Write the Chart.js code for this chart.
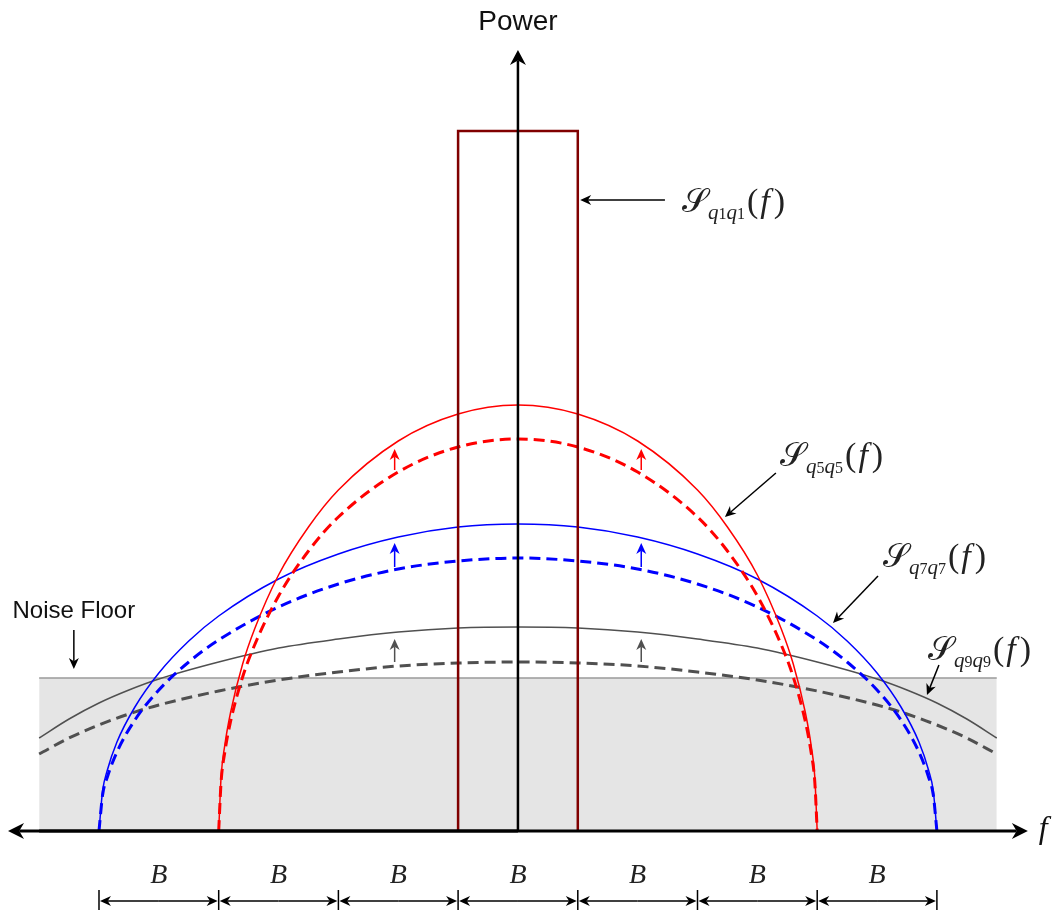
<!DOCTYPE html>
<html>
<head>
<meta charset="utf-8">
<script src="https://cdn.jsdelivr.net/npm/chart.js@4.4.1/dist/chart.umd.min.js"></script>
<style>
  html, body { margin: 0; padding: 0; background: #fff; }
  #wrap { width: 1056px; height: 912px; }
</style>
</head>
<body>
<div id="wrap"><canvas id="spectrum" width="1056" height="912"></canvas></div>
<script>
// Power spectra sketch. Frequency in units of B, power in arbitrary units.

const redF = [-2.5, -2.48, -2.45, -2.4, -2.3, -2.2, -2.0, -1.75, -1.5, -1.0, -0.5, 0, 0.5, 1.0, 1.5, 1.75, 2.0, 2.2, 2.3, 2.4, 2.45, 2.48, 2.5];
const redSolid = [0, 0.54, 0.85, 1.19, 1.67, 2.02, 2.56, 3.04, 3.41, 3.90, 4.17, 4.26, 4.17, 3.90, 3.41, 3.04, 2.56, 2.02, 1.67, 1.19, 0.85, 0.54, 0];
const redDashed = [0, 0.49, 0.78, 1.10, 1.54, 1.86, 2.35, 2.80, 3.14, 3.59, 3.84, 3.92, 3.84, 3.59, 3.14, 2.80, 2.35, 1.86, 1.54, 1.10, 0.78, 0.49, 0];

const blueF = [-3.5, -3.47, -3.43, -3.35, -3.2, -3.0, -2.75, -2.5, -2.0, -1.5, -1.0, -0.5, 0, 0.5, 1.0, 1.5, 2.0, 2.5, 2.75, 3.0, 3.2, 3.35, 3.43, 3.47, 3.5];
const blueSolid = [0, 0.40, 0.61, 0.89, 1.24, 1.58, 1.90, 2.15, 2.52, 2.77, 2.94, 3.04, 3.07, 3.04, 2.94, 2.77, 2.52, 2.15, 1.90, 1.58, 1.24, 0.89, 0.61, 0.40, 0];
const blueDashed = [0, 0.36, 0.54, 0.79, 1.11, 1.41, 1.69, 1.91, 2.24, 2.47, 2.62, 2.70, 2.73, 2.70, 2.62, 2.47, 2.24, 1.91, 1.69, 1.41, 1.11, 0.79, 0.54, 0.36, 0];

const grayF = [-4, -3.75, -3.5, -3.25, -3, -2.5, -2, -1.5, -1, -0.5, 0, 0.5, 1, 1.5, 2, 2.5, 3, 3.25, 3.5, 3.75, 4];
const graySolid = [0.93, 1.12, 1.28, 1.41, 1.52, 1.69, 1.83, 1.92, 1.99, 2.03, 2.04, 2.03, 1.99, 1.92, 1.83, 1.69, 1.52, 1.41, 1.28, 1.12, 0.93];
const grayDashed = [0.77, 0.93, 1.06, 1.17, 1.26, 1.40, 1.51, 1.59, 1.65, 1.68, 1.69, 1.68, 1.65, 1.59, 1.51, 1.40, 1.26, 1.17, 1.06, 0.93, 0.77];

const q1Band = [-0.5, 0.5];
const q1Power = 7.0;
const noiseBand = [-4, 4];
const noiseFloor = 1.53;

// little "gain" arrows from dashed to solid curve (red, blue, gray)
const gainF = [-1.03, 1.03];
const gainFrom = [3.61, 2.64, 1.69];
const gainTo = [3.82, 2.88, 1.92];

const bandEdges = [-3.5, -2.5, -1.5, -0.5, 0.5, 1.5, 2.5, 3.5];
const bandLabel = 'B';
const yAxisLabel = 'Power';
const xAxisLabel = 'f';
const noiseLabel = 'Noise Floor';
const seriesIdx = ['1', '5', '7', '9'];

const pts = (xs, ys) => xs.map((v, i) => ({ x: v, y: ys[i] }));

function arrowHead(ctx, tipX, tipY, fromX, fromY, len, half, color) {
  const ang = Math.atan2(tipY - fromY, tipX - fromX);
  ctx.save();
  ctx.translate(tipX, tipY);
  ctx.rotate(ang);
  ctx.beginPath();
  ctx.moveTo(0, 0);
  ctx.lineTo(-len, -half);
  ctx.lineTo(-len * 0.7, 0);
  ctx.lineTo(-len, half);
  ctx.closePath();
  ctx.fillStyle = color;
  ctx.fill();
  ctx.restore();
}

function arrow(ctx, x0, y0, x1, y1, width, len, half, color) {
  const d = Math.hypot(x1 - x0, y1 - y0);
  const ex = x1 - (x1 - x0) / d * len * 0.7;
  const ey = y1 - (y1 - y0) / d * len * 0.7;
  ctx.save();
  ctx.strokeStyle = color;
  ctx.lineWidth = width;
  ctx.beginPath();
  ctx.moveTo(x0, y0);
  ctx.lineTo(ex, ey);
  ctx.stroke();
  ctx.restore();
  arrowHead(ctx, x1, y1, x0, y0, len, half, color);
}

// S_{qNqN}(f) drawn as runs of text
function seriesLabel(ctx, x, y, n) {
  const runs = [
    { t: '\uD835\uDCAE', f: '33px "DejaVu Serif", serif', dy: 0 },
    { t: 'q', f: 'italic 21px "Liberation Serif", serif', dy: 7 },
    { t: n, f: '16px "Liberation Serif", serif', dy: 7 },
    { t: 'q', f: 'italic 21px "Liberation Serif", serif', dy: 7 },
    { t: n, f: '16px "Liberation Serif", serif', dy: 7 },
    { t: '(', f: '34px "Liberation Serif", serif', dy: 0, pre: 2 },
    { t: 'f', f: 'italic 34px "Liberation Serif", serif', dy: 0, pre: 2 },
    { t: ')', f: '34px "Liberation Serif", serif', dy: 0, pre: 4 }
  ];
  ctx.save();
  ctx.fillStyle = '#222';
  ctx.textBaseline = 'alphabetic';
  ctx.textAlign = 'left';
  let cx = x;
  runs.forEach(r => {
    cx += r.pre || 0;
    ctx.font = r.f;
    ctx.fillText(r.t, cx, y + r.dy);
    cx += ctx.measureText(r.t).width;
  });
  ctx.restore();
}

const overlay = {
  id: 'overlay',
  afterDatasetsDraw(chart) {
    const { ctx, scales: { x, y } } = chart;
    const px = v => x.getPixelForValue(v);
    const py = v => y.getPixelForValue(v);

    // axes
    arrow(ctx, px(-4.0), py(0), px(4.26), py(0), 3, 16, 8, '#000');
    arrow(ctx, px(0), py(0), px(-4.26), py(0), 3, 16, 8, '#000');
    arrow(ctx, px(0), py(0), px(0), py(7.81), 2.5, 15, 8, '#000');

    ctx.save();
    ctx.fillStyle = '#111';
    ctx.textAlign = 'center';
    ctx.textBaseline = 'alphabetic';
    ctx.font = '28px "Liberation Sans", Arial, sans-serif';
    ctx.fillText(yAxisLabel, px(0), py(8.01));
    ctx.font = 'italic 32px "Liberation Serif", serif';
    ctx.textAlign = 'left';
    ctx.fillText(xAxisLabel, px(4.35), py(-0.07));
    ctx.restore();

    // gain arrows
    const gainColors = ['#ff0000', '#0000ff', '#505050'];
    gainF.forEach(f => {
      gainFrom.forEach((v, i) => {
        arrow(ctx, px(f), py(v), px(f), py(gainTo[i]), 1.5, 11, 5, gainColors[i]);
      });
    });

    // noise floor callout
    ctx.save();
    ctx.fillStyle = '#111';
    ctx.font = '24px "Liberation Sans", Arial, sans-serif';
    ctx.textAlign = 'center';
    ctx.fillText(noiseLabel, px(-3.71), py(2.13));
    ctx.restore();
    arrow(ctx, px(-3.71), py(2.01), px(-3.71), py(1.62), 1.5, 11, 5, '#000');

    // series callouts
    const callouts = [
      { tx: 1.37, ty: 6.19, a: [1.228, 6.31, 0.52, 6.31] },
      { tx: 2.19, ty: 3.65, a: [2.155, 3.58, 1.729, 3.14] },
      { tx: 3.05, ty: 2.64, a: [3.008, 2.55, 2.632, 2.08] },
      { tx: 3.425, ty: 1.71, a: [3.517, 1.66, 3.417, 1.36] }
    ];
    callouts.forEach((c, i) => {
      seriesLabel(ctx, px(c.tx), py(c.ty), seriesIdx[i]);
      arrow(ctx, px(c.a[0]), py(c.a[1]), px(c.a[2]), py(c.a[3]), 1.5, 11, 5, '#000');
    });

    // bandwidth brackets
    const by = py(-0.70);
    ctx.save();
    ctx.strokeStyle = '#000';
    ctx.lineWidth = 1.5;
    bandEdges.forEach(e => {
      ctx.beginPath();
      ctx.moveTo(px(e), py(-0.59));
      ctx.lineTo(px(e), py(-0.79));
      ctx.stroke();
    });
    ctx.restore();
    for (let i = 0; i < bandEdges.length - 1; i++) {
      const a = px(bandEdges[i]) + 1, b = px(bandEdges[i + 1]) - 1;
      const m = (a + b) / 2;
      arrow(ctx, m, by, a, by, 1.5, 11, 5, '#000');
      arrow(ctx, m, by, b, by, 1.5, 11, 5, '#000');
      ctx.save();
      ctx.fillStyle = '#222';
      ctx.font = 'italic 28px "Liberation Serif", serif';
      ctx.textAlign = 'center';
      ctx.fillText(bandLabel, (px(bandEdges[i]) + px(bandEdges[i + 1])) / 2, py(-0.52));
      ctx.restore();
    }
  }
};

const curve = (data, color, width, dash, order) => ({
  data,
  borderColor: color,
  borderWidth: width,
  borderDash: dash,
  showLine: true,
  pointRadius: 0,
  cubicInterpolationMode: 'monotone',
  fill: false,
  order
});

new Chart(document.getElementById('spectrum'), {
  type: 'scatter',
  data: {
    datasets: [
      {
        data: pts(noiseBand, [noiseFloor, noiseFloor]),
        borderColor: '#9a9a9a',
        borderWidth: 1.5,
        backgroundColor: '#e5e5e5',
        fill: 'origin',
        showLine: true,
        pointRadius: 0,
        order: 10
      },
      curve(pts(grayF, grayDashed), '#505050', 3, [11, 6], 6),
      curve(pts(grayF, graySolid), '#505050', 1.5, [], 5),
      curve(pts(blueF, blueDashed), '#0000ff', 3, [11, 6], 4),
      curve(pts(blueF, blueSolid), '#0000ff', 1.5, [], 3),
      curve(pts(redF, redDashed), '#ff0000', 3, [11, 6], 2),
      curve(pts(redF, redSolid), '#ff0000', 1.5, [], 1),
      {
        data: pts([q1Band[0], q1Band[0], q1Band[1], q1Band[1]], [0, q1Power, q1Power, 0]),
        borderColor: '#800000',
        borderWidth: 2.5,
        showLine: true,
        pointRadius: 0,
        tension: 0,
        fill: false,
        order: 0
      }
    ]
  },
  options: {
    responsive: false,
    animation: false,
    layout: { padding: 0 },
    plugins: {
      legend: { display: false },
      tooltip: { enabled: false }
    },
    scales: {
      x: { type: 'linear', min: -4.327, max: 4.495, display: false },
      y: { type: 'linear', min: -0.81, max: 8.31, display: false }
    }
  },
  plugins: [overlay]
});
</script>
</body>
</html>
